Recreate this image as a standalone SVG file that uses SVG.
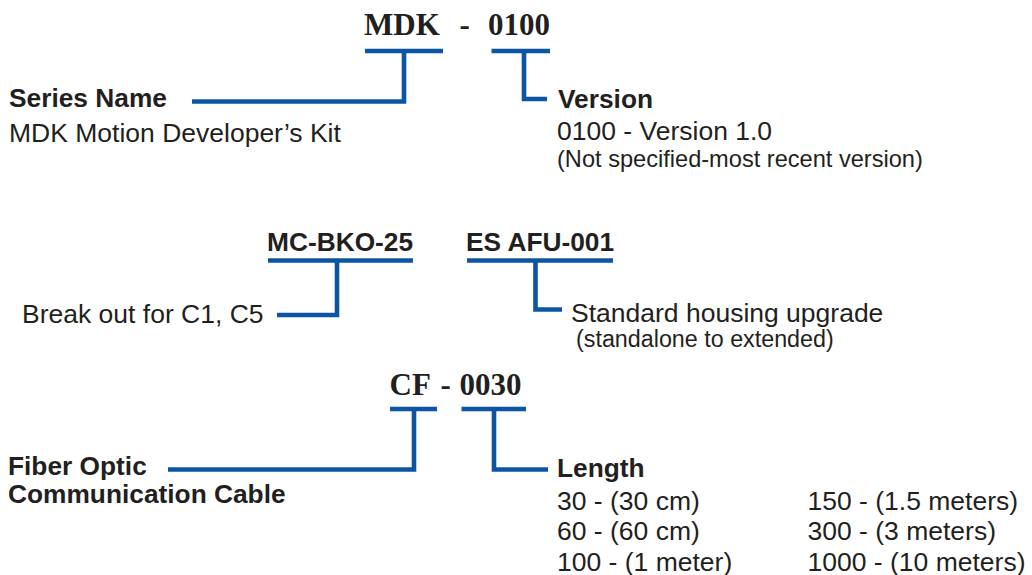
<svg xmlns="http://www.w3.org/2000/svg" width="1032" height="575" viewBox="0 0 1032 575">
  <style>
    .code { font-family: "Liberation Serif", "Times New Roman", serif; font-weight: bold; font-size: 31px; fill: #231f20; }
    .head { font-family: "Liberation Sans", Arial, sans-serif; font-weight: bold; font-size: 26.3px; fill: #231f20; }
    .body { font-family: "Liberation Sans", Arial, sans-serif; font-size: 26.5px; fill: #231f20; }
    .note { font-family: "Liberation Sans", Arial, sans-serif; font-size: 23.3px; fill: #231f20; }
    .wire { fill: none; stroke: #0b55a3; stroke-width: 4.6; stroke-linecap: butt; stroke-linejoin: miter; }
  </style>

  <rect width="1032" height="575" fill="#ffffff"/>

  <!-- part number breakdown: MDK - 0100 -->
  <g id="mdk-code">
    <text class="code" x="364" y="35">MDK</text>
    <text class="code" x="459.5" y="35">-</text>
    <text class="code" x="488" y="35">0100</text>
  </g>

  <g id="series-name">
    <text class="head" x="9" y="107">Series Name</text>
    <text class="body" x="9" y="142">MDK Motion Developer’s Kit</text>
  </g>

  <g id="version">
    <text class="head" x="558" y="108">Version</text>
    <text class="body" x="557" y="140">0100 - Version 1.0</text>
    <text class="note" x="557" y="167" style="font-size:23.6px">(Not specified-most recent version)</text>
  </g>

  <!-- accessories -->
  <g id="mc-bko">
    <text class="head" x="267" y="251">MC-BKO-25</text>
    <text class="body" x="22" y="323">Break out for C1, C5</text>
  </g>

  <g id="es-afu">
    <text class="head" x="466" y="251">ES AFU-001</text>
    <text class="body" x="571" y="322">Standard housing upgrade</text>
    <text class="note" x="576" y="347">(standalone to extended)</text>
  </g>

  <!-- cable: CF - 0030 -->
  <g id="cf-code">
    <text class="code" x="389.5" y="395">CF</text>
    <text class="code" x="440.5" y="395">-</text>
    <text class="code" x="459.5" y="395">0030</text>
  </g>

  <g id="fiber-optic">
    <text class="head" x="8" y="475">Fiber Optic</text>
    <text class="head" x="8" y="503">Communication Cable</text>
  </g>

  <g id="length">
    <text class="head" x="557" y="477">Length</text>
    <text class="body" x="557" y="510">30 - (30 cm)</text>
    <text class="body" x="557" y="540">60 - (60 cm)</text>
    <text class="body" x="557" y="571">100 - (1 meter)</text>
    <text class="body" x="807.5" y="510">150 - (1.5 meters)</text>
    <text class="body" x="807.5" y="540">300 - (3 meters)</text>
    <text class="body" x="807.5" y="571">1000 - (10 meters)</text>
  </g>

  <!-- bracket connectors -->
  <g id="connectors">
    <path class="wire" d="M365,51 H443"/>
    <path class="wire" d="M404,51 V101.5 H192"/>
    <path class="wire" d="M491.5,51 H550"/>
    <path class="wire" d="M524,51 V99 H547"/>

    <path class="wire" d="M268,260.5 H413"/>
    <path class="wire" d="M337,260.5 V315 H277"/>
    <path class="wire" d="M467,260.5 H613"/>
    <path class="wire" d="M535.5,260.5 V309.5 H562"/>

    <path class="wire" d="M390,409 H437"/>
    <path class="wire" d="M414,409 V469.5 H168"/>
    <path class="wire" d="M461.5,409 H526"/>
    <path class="wire" d="M494,409 V469.5 H548"/>
  </g>
</svg>
